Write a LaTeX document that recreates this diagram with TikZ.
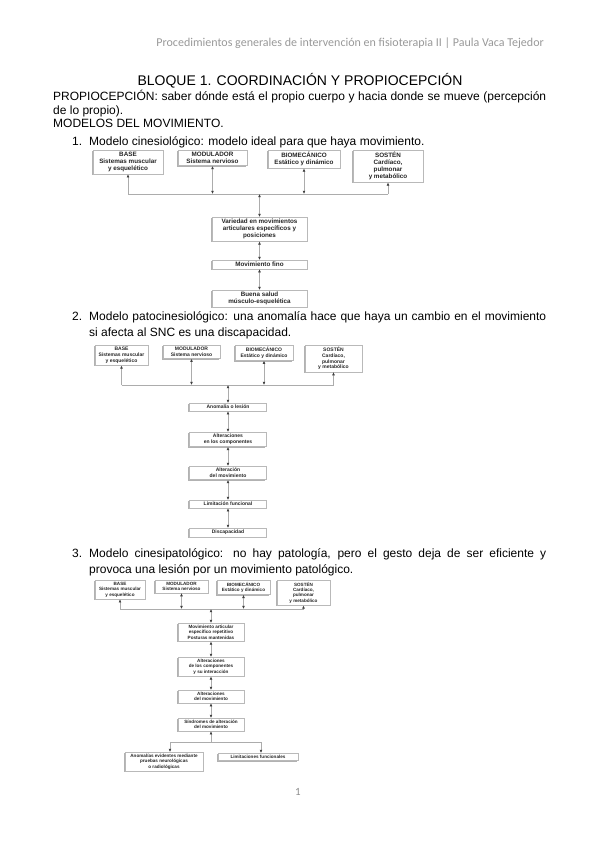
\documentclass[tikz,border=0pt]{standalone}
\usepackage{fontspec}
\setmainfont{Liberation Sans}
\newfontfamily\headfont{Carlito}
\usepackage{tikz}
\usetikzlibrary{arrows.meta,shadows}

\begin{document}
\begin{tikzpicture}[x=1pt,y=-1pt,
    txt/.style={inner sep=0pt,anchor=base west,font=\fontsize{12}{13.5}\selectfont},
    blk/.style={draw=gray!55,fill=white,line width=0.5pt,anchor=north,align=center,
      inner xsep=1pt,inner ysep=2pt,text=black!85,
      drop shadow={shadow xshift=-1.2pt,shadow yshift=-1.2pt,fill=gray!60,opacity=1}},
    bigf/.style={font=\fontsize{6.3}{7}\selectfont\bfseries},
    midf/.style={font=\fontsize{5}{5.7}\selectfont\bfseries},
    smlf/.style={font=\fontsize{4.6}{5.3}\selectfont\bfseries},
    lnk/.style={draw=gray!65,line width=0.6pt,>={Latex[length=3.2pt,width=2.8pt,color=black!75]}}]
    \useasboundingbox[fill=white] (0,0) rectangle (599,848);

    % header and text
    \node[inner sep=0pt,anchor=base east,text=gray!80,font=\headfont\fontsize{12}{14}\selectfont] (head) at (544,47) {Procedimientos generales de intervención en fisioterapia II | Paula Vaca Tejedor};
    \node[txt,anchor=base,font=\fontsize{14}{16}\selectfont] (title) at (300,86) {BLOQUE 1. COORDINACIÓN Y PROPIOCEPCIÓN};
    \node[txt] (prop1) at (53,101) {\makebox[493pt][s]{PROPIOCEPCIÓN: saber dónde está el propio cuerpo y hacia donde se mueve (percepción}};
    \node[txt] (prop2) at (53,115) {de lo propio).};
    \node[txt] (modelos) at (53,128) {MODELOS DEL MOVIMIENTO.};
    \node[txt] (n1) at (72,145) {1.};
    \node[txt] (item1) at (89,145) {Modelo cinesiológico: modelo ideal para que haya movimiento.};

    % modelo cinesiologico
    \node[blk,bigf,minimum width=70pt] (base1) at (128,150) {BASE\\Sistemas muscular\\y esquelético};
    \node[blk,bigf,minimum width=69pt] (modu1) at (212.5,150) {MODULADOR\\Sistema nervioso};
    \node[blk,bigf,minimum width=72pt] (biom1) at (304,150) {BIOMECÁNICO\\Estático y dinámico};
    \node[blk,bigf,minimum width=70pt] (sost1) at (388,150) {SOSTÉN\\Cardíaco,\\pulmonar\\y metabólico};
    \node[blk,bigf,minimum width=95pt] (vari1) at (259.5,217) {Variedad en movimientos\\articulares específicos y\\posiciones};
    \node[blk,bigf,minimum width=95pt] (fino1) at (259.5,260) {Movimiento fino};
    \node[blk,bigf,minimum width=95pt] (salud1) at (259.5,290) {Buena salud\\músculo-esquelética};
    \coordinate (bus1) at (259.5,194);
    \draw[lnk] (base1.south |- bus1) -- (sost1.south |- bus1);
    \draw[lnk,->] (base1.south |- bus1) -- (base1.south);
    \draw[lnk,<->] (modu1.south |- bus1) -- (modu1.south);
    \draw[lnk,<->] (biom1.south |- bus1) -- (biom1.south);
    \draw[lnk,->] (sost1.south |- bus1) -- (sost1.south);
    \draw[lnk,<->] (bus1) -- (vari1.north);
    \draw[lnk,<->] (vari1) -- (fino1);
    \draw[lnk,<->] (fino1) -- (salud1);

    \node[txt] (n2) at (72,320) {2.};
    \node[txt] (item2a) at (89,320) {\makebox[457pt][s]{Modelo patocinesiológico: una anomalía hace que haya un cambio en el movimiento}};
    \node[txt] (item2b) at (89,336) {si afecta al SNC es una discapacidad.};

    % modelo patocinesiologico
    \node[blk,midf,minimum width=53pt] (base2) at (121.5,345) {BASE\\Sistemas muscular\\y esquelético};
    \node[blk,midf,minimum width=57pt] (modu2) at (191.5,345) {MODULADOR\\Sistema nervioso};
    \node[blk,midf,minimum width=58pt] (biom2) at (264,345) {BIOMECÁNICO\\Estático y dinámico};
    \node[blk,midf,minimum width=57pt] (sost2) at (333.5,345) {SOSTÉN\\Cardíaco,\\pulmonar\\y metabólico};
    \node[blk,midf,minimum width=77pt] (anom2) at (228,403) {Anomalía o lesión};
    \node[blk,midf,minimum width=77pt] (comp2) at (228,432) {Alteraciones\\en los componentes};
    \node[blk,midf,minimum width=77pt] (movi2) at (228,466) {Alteración\\del movimiento};
    \node[blk,midf,minimum width=77pt] (limi2) at (228,500) {Limitación funcional};
    \node[blk,midf,minimum width=77pt] (disc2) at (228,528) {Discapacidad};
    \coordinate (bus2) at (228,385);
    \draw[lnk] (base2.south |- bus2) -- (sost2.south |- bus2);
    \draw[lnk,->] (base2.south |- bus2) -- (base2.south);
    \draw[lnk,<->] (modu2.south |- bus2) -- (modu2.south);
    \draw[lnk,<->] (biom2.south |- bus2) -- (biom2.south);
    \draw[lnk,->] (sost2.south |- bus2) -- (sost2.south);
    \draw[lnk,<->] (bus2) -- (anom2.north);
    \draw[lnk,<->] (anom2) -- (comp2);
    \draw[lnk,<->] (comp2) -- (movi2);
    \draw[lnk,<->] (movi2) -- (limi2);
    \draw[lnk,<->] (limi2) -- (disc2);

    \node[txt] (n3) at (72,557) {3.};
    \node[txt] (item3a) at (89,557) {\makebox[457pt][s]{Modelo cinesipatológico: no hay patología, pero el gesto deja de ser eficiente y}};
    \node[txt] (item3b) at (89,573) {provoca una lesión por un movimiento patológico.};

    % modelo cinesipatologico
    \node[blk,smlf,minimum width=50pt] (base3) at (120,580) {BASE\\Sistemas muscular\\y esquelético};
    \node[blk,smlf,minimum width=53pt] (modu3) at (181.5,580) {MODULADOR\\Sistema nervioso};
    \node[blk,smlf,minimum width=53pt] (biom3) at (243.5,580) {BIOMECÁNICO\\Estático y dinámico};
    \node[blk,smlf,minimum width=53pt] (sost3) at (303.5,580) {SOSTÉN\\Cardíaco,\\pulmonar\\y metabólico};
    \node[blk,smlf,minimum width=66pt] (mova3) at (211,623) {Movimiento articular\\específico repetitivo\\Posturas mantenidas};
    \node[blk,smlf,minimum width=66pt] (comp3) at (211,657) {Alteraciones\\de los componentes\\y su interacción};
    \node[blk,smlf,minimum width=66pt] (movi3) at (211,690) {Alteraciones\\del movimiento};
    \node[blk,smlf,minimum width=66pt] (sind3) at (211,718) {Síndromes de alteración\\del movimiento};
    \node[blk,smlf,minimum width=78pt] (evid3) at (164,752) {Anomalías evidentes mediante\\pruebas neurológicas\\o radiológicas};
    \node[blk,smlf,minimum width=80pt] (limi3) at (258,753) {Limitaciones funcionales};
    \coordinate (bus3) at (211,609);
    \coordinate (split3) at (211,742);
    \coordinate (dropl3) at (170,742);
    \coordinate (dropr3) at (261,742);
    \draw[lnk] (base3.south |- bus3) -- (sost3.south |- bus3);
    \draw[lnk,->] (base3.south |- bus3) -- (base3.south);
    \draw[lnk,<->] (modu3.south |- bus3) -- (modu3.south);
    \draw[lnk,<->] (biom3.south |- bus3) -- (biom3.south);
    \draw[lnk,->] (sost3.south |- bus3) -- (sost3.south);
    \draw[lnk,<->] (bus3) -- (mova3.north);
    \draw[lnk,<->] (mova3) -- (comp3);
    \draw[lnk,<->] (comp3) -- (movi3);
    \draw[lnk,<->] (movi3) -- (sind3);
    \draw[lnk,<-] (sind3.south) -- (split3);
    \draw[lnk] (dropl3) -- (dropr3);
    \draw[lnk,->] (dropl3) -- (dropl3 |- evid3.north);
    \draw[lnk,->] (dropr3) -- (dropr3 |- limi3.north);

    \node[inner sep=0pt,anchor=base,text=gray!90,font=\headfont\fontsize{11}{13}\selectfont] (page) at (298,795) {1};
\end{tikzpicture}
\end{document}
